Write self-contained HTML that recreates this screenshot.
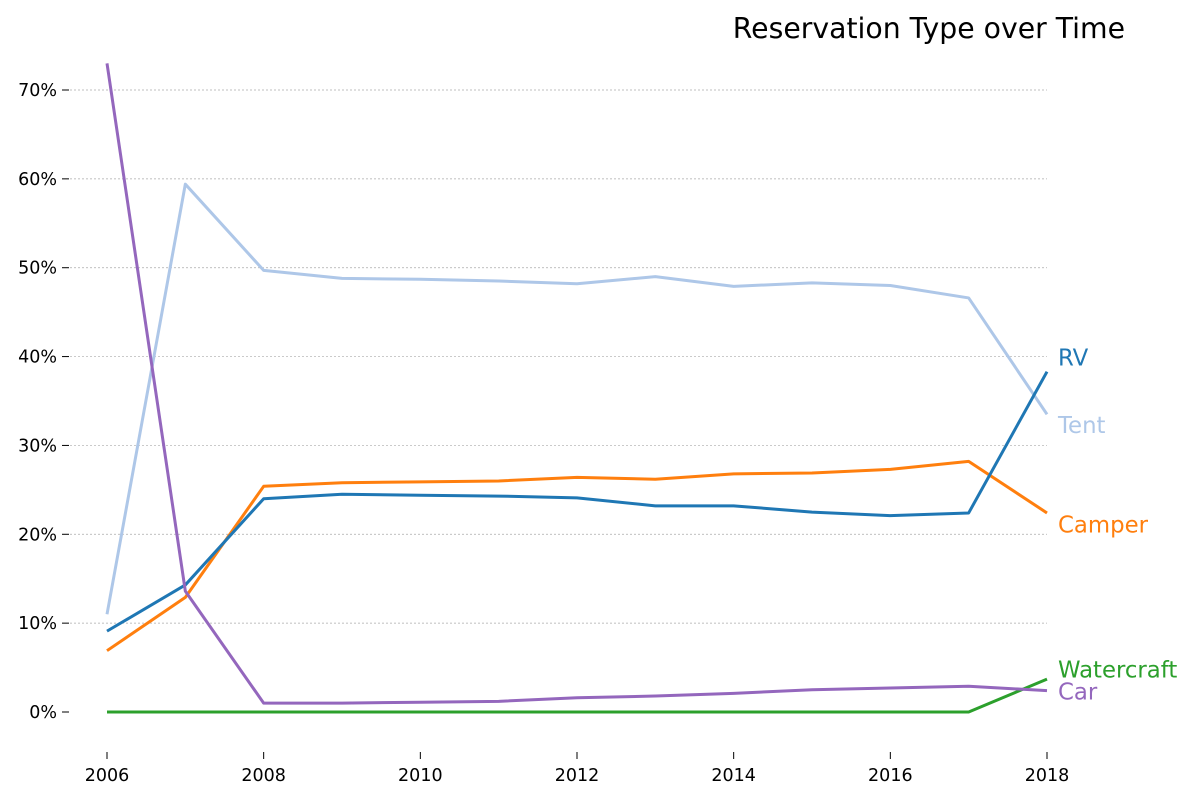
<!DOCTYPE html>
<html><head><meta charset="utf-8"><style>
body{margin:0;background:#fff;}
svg text{font-family:"DejaVu Sans","Liberation Sans",sans-serif;}
</style></head><body>
<svg id="chart" width="1200" height="800" xmlns="http://www.w3.org/2000/svg">
<text x="1125" y="38" text-anchor="end" font-size="28.3" fill="#000">Reservation Type over Time</text>
<g id="grid"></g><g id="axes"></g><g id="lines"></g><g id="labels"></g>
</svg>
<script>
const years=[2006,2007,2008,2009,2010,2011,2012,2013,2014,2015,2016,2017,2018];
const tent=[11.0,59.4,49.7,48.8,48.7,48.5,48.2,49.0,47.9,48.3,48.0,46.6,33.5];
const rv=[9.1,14.3,24.0,24.5,24.4,24.3,24.1,23.2,23.2,22.5,22.1,22.4,38.3];
const camper=[6.9,12.9,25.4,25.8,25.9,26.0,26.4,26.2,26.8,26.9,27.3,28.2,22.4];
const car=[73.0,13.6,1.0,1.0,1.1,1.2,1.6,1.8,2.1,2.5,2.7,2.9,2.4];
const watercraft=[0,0,0,0,0,0,0,0,0,0,0,0,3.7];
const yTicks=[0,10,20,30,40,50,60,70];
const xTicks=[2006,2008,2010,2012,2014,2016,2018];
const NS="http://www.w3.org/2000/svg";
const X=v=>107+(v-2006)*(940/12);
const Y=v=>712-v*(622/70);
function mk(t,a,p){const e=document.createElementNS(NS,t);for(const k in a)e.setAttribute(k,a[k]);p.appendChild(e);return e;}
const grid=document.getElementById('grid'),axes=document.getElementById('axes'),lines=document.getElementById('lines'),labels=document.getElementById('labels');
yTicks.forEach(v=>{
 if(v>0){const g=mk('line',{x1:70,x2:1047,y1:Y(v),y2:Y(v),stroke:'#aaa','stroke-width':0.7,'stroke-dasharray':'2,2'},grid);
 
 }
 const t=mk('text',{x:57,y:Y(v)+6,'text-anchor':'end','font-size':17.5,fill:'#000'},axes);t.textContent=v+'%';
 
 
 const tk=mk('line',{x1:62,x2:69,y1:Y(v),y2:Y(v),stroke:'#000','stroke-width':1},axes);
 
 
});
xTicks.forEach(v=>{
 const t=mk('text',{x:X(v),y:781,'text-anchor':'middle','font-size':17.5,fill:'#000'},axes);t.textContent=v;
 
 
 const tk=mk('line',{x1:X(v),x2:X(v),y1:752,y2:759,stroke:'#000','stroke-width':1},axes);
 
 
});
const series=[
 {n:'Tent',d:tent,c:'#aec7e8',ly:32.3},
 {n:'Watercraft',d:watercraft,c:'#2ca02c',ly:4.8},
 {n:'Camper',d:camper,c:'#ff7f0e',ly:21.1},
 {n:'RV',d:rv,c:'#1f77b4',ly:39.9},
 {n:'Car',d:car,c:'#9467bd',ly:2.3}];
series.forEach(s=>{
 const p=mk('polyline',{points:s.d.map((v,i)=>X(years[i])+','+Y(v)).join(' '),fill:'none',stroke:s.c,'stroke-width':3,'stroke-linejoin':'round'},lines);
 
 
 const t=mk('text',{x:1058,y:Y(s.ly)+8,'font-size':22.8,fill:s.c},labels);t.textContent=s.n;
 
 
});
</script>
</body></html>
